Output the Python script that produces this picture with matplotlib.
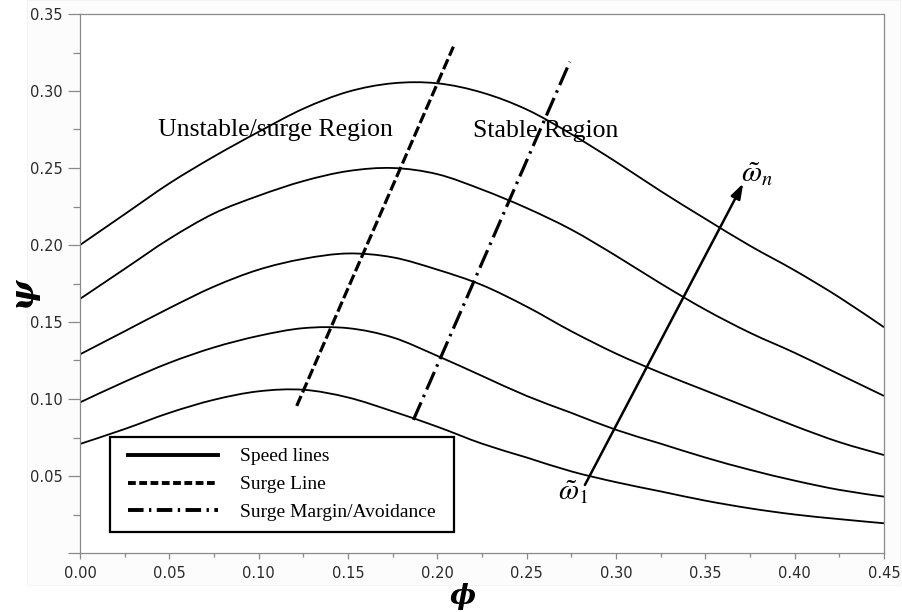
import matplotlib
matplotlib.use("Agg")
import numpy as np
import matplotlib.pyplot as plt
from matplotlib.lines import Line2D
from matplotlib.patches import Rectangle, PathPatch
from matplotlib.path import Path
from matplotlib.legend_handler import HandlerLine2D
from matplotlib.ticker import MultipleLocator, FuncFormatter

plt.rcParams['mathtext.fontset'] = 'stix'

# Mass-flow coefficient grid for the compressor speed lines
phi = [0.000, 0.025, 0.050, 0.075, 0.100, 0.125, 0.150, 0.175, 0.200, 0.225,
       0.250, 0.275, 0.300, 0.325, 0.350, 0.375, 0.400, 0.425, 0.450]

# Pressure-rise coefficient along each speed line (lowest to highest speed)
psi_speed1 = [0.0708, 0.0805, 0.091, 0.0995, 0.105, 0.106, 0.101, 0.092, 0.082, 0.071,
              0.062, 0.053, 0.046, 0.040, 0.034, 0.029, 0.025, 0.022, 0.0193]
psi_speed2 = [0.0978, 0.1112, 0.1235, 0.1335, 0.141, 0.146, 0.146, 0.140, 0.128, 0.115,
              0.102, 0.091, 0.080, 0.071, 0.062, 0.054, 0.047, 0.041, 0.0366]
psi_speed3 = [0.129, 0.144, 0.159, 0.173, 0.184, 0.191, 0.1945, 0.192, 0.184, 0.174,
              0.160, 0.144, 0.1295, 0.117, 0.1055, 0.094, 0.0825, 0.072, 0.0636]
psi_speed4 = [0.165, 0.1845, 0.204, 0.2205, 0.232, 0.2415, 0.248, 0.250, 0.246, 0.236,
              0.224, 0.210, 0.193, 0.175, 0.158, 0.143, 0.130, 0.116, 0.102]
psi_speed5 = [0.200, 0.220, 0.240, 0.2575, 0.2735, 0.2885, 0.2995, 0.305, 0.305, 0.299,
              0.288, 0.272, 0.254, 0.235, 0.217, 0.1995, 0.1835, 0.166, 0.1466]
speed_lines = [psi_speed1, psi_speed2, psi_speed3, psi_speed4, psi_speed5]

# Surge line and surge-avoidance line end points (phi, psi)
surge_phi = [0.1213, 0.2090]
surge_psi = [0.0955, 0.3288]
margin_phi = [0.1866, 0.2742]
margin_psi = [0.0864, 0.3190]

# Direction of increasing rotor speed
speed_arrow_tail = (0.2826, 0.0442)
speed_arrow_head = (0.3712, 0.2400)

legend_labels = ["Speed lines", "Surge Line", "Surge Margin/Avoidance"]


def smooth_path(xs, ys):
    """Cubic Bezier path through the given points (Catmull-Rom tangents)."""
    p = np.column_stack([xs, ys]).astype(float)
    n = len(p)
    verts = [p[0]]
    codes = [Path.MOVETO]
    for i in range(n - 1):
        p0 = p[i - 1] if i > 0 else p[i]
        p3 = p[i + 2] if i + 2 < n else p[i + 1]
        c1 = p[i] + (p[i + 1] - p0) / 6.0
        c2 = p[i + 1] - (p3 - p[i]) / 6.0
        verts += [c1, c2, p[i + 1]]
        codes += [Path.CURVE4] * 3
    return Path(verts, codes)


fig = plt.figure(figsize=(9.02, 6.12), dpi=100)
fig.patches.append(Rectangle((27 / 902, 27 / 612), 873 / 902, 585 / 612,
                             transform=fig.transFigure, facecolor='#fcfcfc',
                             edgecolor='#f4f4f4', lw=0.8, zorder=-10))
ax = fig.add_axes([80 / 902, 59 / 612, 804 / 902, 539 / 612])
ax.set_facecolor('white')

for psi in speed_lines:
    ax.add_patch(PathPatch(smooth_path(phi, psi), fill=False, edgecolor='black',
                           lw=1.3, capstyle='butt'))

ax.plot(surge_phi, surge_psi, color='black', lw=2.3, dashes=(3.4, 1.2))
ax.plot(margin_phi, margin_psi, color='black', lw=2.3, dashes=(6.0, 1.8, 0.8, 1.8))

ax.annotate('', xy=speed_arrow_head, xytext=speed_arrow_tail,
            arrowprops=dict(arrowstyle='-|>,head_length=0.9,head_width=0.3',
                            color='black', lw=1.8, shrinkA=0, shrinkB=0))

ax.text(0.0437, 0.2747, 'Unstable/surge Region', family='Liberation Serif',
        fontsize=18.5, ha='left', va='center')
ax.text(0.2200, 0.2740, 'Stable Region', family='Liberation Serif',
        fontsize=18.5, ha='left', va='center')
ax.text(0.3790, 0.2460, r'$\tilde{\omega}_n$', fontsize=21, ha='center', va='center')
ax.text(0.2758, 0.0398, r'$\tilde{\omega}_1$', fontsize=21, ha='center', va='center')

ax.set_xlim(0, 0.45)
ax.set_ylim(0, 0.35)
ax.xaxis.set_major_locator(MultipleLocator(0.05))
ax.xaxis.set_minor_locator(MultipleLocator(0.025))
ax.yaxis.set_major_locator(MultipleLocator(0.05))
ax.yaxis.set_minor_locator(MultipleLocator(0.025))
ax.xaxis.set_major_formatter(FuncFormatter(lambda v, p: f"{v:.2f}"))
ax.yaxis.set_major_formatter(FuncFormatter(lambda v, p: "" if abs(v) < 1e-9 else f"{v:.2f}"))

for s in ax.spines.values():
    s.set_color('#8a8a8a')
    s.set_linewidth(0.9)
ax.tick_params(axis='both', which='both', direction='out', color='#8a8a8a',
               labelcolor='#2a2a2a', labelsize=10.5, width=0.9)
ax.tick_params(axis='y', which='major', length=8.5, pad=4)
ax.tick_params(axis='y', which='minor', length=5)
ax.tick_params(axis='x', which='major', length=4, pad=5)
ax.tick_params(axis='x', which='minor', length=3)

fig.text(22 / 902, 1 - 291.7 / 612, '\u03c8', family='DejaVu Serif', style='italic',
         weight='bold', fontsize=23, rotation=90, ha='center', va='center')
fig.text(463 / 902, 1 - 596 / 612, '\u03d5', family='DejaVu Serif', style='italic',
         weight='bold', fontsize=20, ha='center', va='center')

handles = [Line2D([], [], color='black', lw=2.8),
           Line2D([], [], color='black', lw=2.8, dashes=(2.0, 0.9)),
           Line2D([], [], color='black', lw=2.8, dashes=(4.0, 1.4, 0.6, 1.4))]
leg = ax.legend(handles, legend_labels, loc='lower left',
                bbox_to_anchor=(0.0373, 0.039, 0.428, 0.176), mode='expand',
                borderaxespad=0, fancybox=False, framealpha=1, edgecolor='black',
                prop={'family': 'Liberation Serif', 'size': 14},
                handlelength=5.0, handletextpad=1.13, labelspacing=0.53,
                borderpad=0.55,
                handler_map={Line2D: HandlerLine2D(xpad=0.375)})
leg.get_frame().set_linewidth(1.6)

fig.savefig('out.png', dpi=100)
